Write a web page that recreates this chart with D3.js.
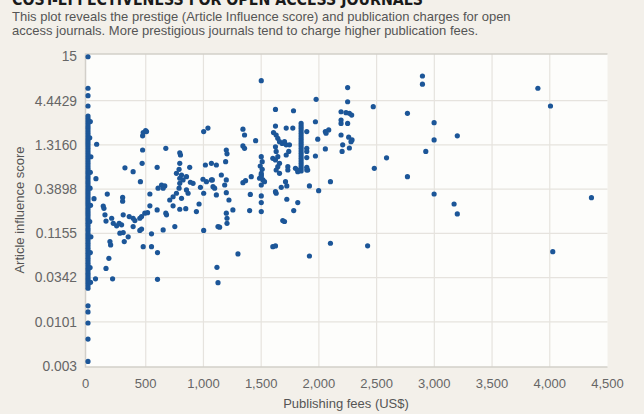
<!DOCTYPE html>
<html>
<head>
<meta charset="utf-8">
<script src="https://cdn.jsdelivr.net/npm/d3@7"></script>
<style>
  html, body { margin: 0; padding: 0; background: #f3f0ea; }
  #chart { width: 644px; height: 414px; }
  .tick-label { font-family: "Liberation Sans", Arial, sans-serif; font-size: 13px; fill: #666; }
  .tick-label.y { font-size: 13.8px; }
  .axis-label { font-family: "Liberation Sans", Arial, sans-serif; font-size: 13px; fill: #555; }
  .subtitle { font-family: "Liberation Sans", Arial, sans-serif; font-size: 13px; fill: #555; }
  .title { font-family: "DejaVu Sans Condensed", "DejaVu Sans", sans-serif; font-weight: bold; font-size: 16px; fill: #1a1a1a; }
</style>
</head>
<body>
<div id="chart"></div>
<script>
// ---- Data ----
const xTicks = [0, 500, 1000, 1500, 2000, 2500, 3000, 3500, 4000, 4500];
const yTicks = [0.003, 0.0101, 0.0342, 0.1155, 0.3898, 1.3160, 4.4429, 15];
const yTickLabels = ['0.003', '0.0101', '0.0342', '0.1155', '0.3898', '1.3160', '4.4429', '15'];

// journals with no publication fee (dense column at 0)
const freeJournalScores = [
  14.9, 6.26, 5.10, 3.84,
  2.91, 2.72, 2.54, 2.37, 2.21, 2.07, 1.93, 1.80, 1.68, 1.57, 1.47, 1.37, 1.28, 1.19, 1.11, 1.04,
  0.970, 0.905, 0.845, 0.789, 0.737, 0.688, 0.642, 0.600, 0.560, 0.523, 0.488, 0.456, 0.425, 0.397,
  0.371, 0.346, 0.323, 0.302, 0.282, 0.263, 0.246, 0.229, 0.214, 0.200, 0.187, 0.174, 0.163, 0.152,
  0.142, 0.132, 0.124, 0.115, 0.108, 0.101, 0.094, 0.0878, 0.082, 0.0765, 0.0715, 0.0667, 0.0623,
  0.0582, 0.0543, 0.0507, 0.0473, 0.0442, 0.0413, 0.0385, 0.036, 0.0336, 0.0314, 0.0293, 0.0273, 0.0255,
  0.0157, 0.0133, 0.0098, 0.0063, 0.0034
];

// [fee US$, article influence score]
const lowFeeJournals = [
  [20, 2.5], [15, 1.6], [25, 0.95], [20, 0.62], [18, 0.40], [22, 0.25], [15, 0.16], [25, 0.105],
  [20, 0.068], [18, 0.045], [22, 0.03],
  [75, 1.34], [69, 0.52], [52, 0.30], [65, 0.033], [167, 0.34], [300, 0.31], [300, 0.28], [132, 0.245],
  [138, 0.23], [147, 0.192], [156, 0.162], [205, 0.175], [219, 0.152], [248, 0.142], [270, 0.152],
  [291, 0.146], [305, 0.192], [357, 0.183], [391, 0.175], [406, 0.164], [449, 0.175], [464, 0.183],
  [492, 0.201], [516, 0.204], [391, 0.139], [276, 0.116], [305, 0.118], [348, 0.105], [314, 0.092],
  [449, 0.125], [464, 0.13], [550, 0.114], [536, 0.246], [599, 0.22], [674, 0.201], [680, 0.192],
  [651, 0.127], [752, 0.139], [190, 0.092], [196, 0.084], [478, 0.08], [550, 0.08], [602, 0.068],
  [181, 0.058], [156, 0.044], [213, 0.033], [602, 0.0326]
];

const midFeeJournals = [
  [1002, 0.125], [939, 0.21], [962, 0.259], [454, 0.479], [536, 0.341], [607, 0.40], [637, 0.437],
  [665, 0.426], [651, 0.40], [708, 0.289], [737, 0.316], [766, 0.348], [789, 0.40], [795, 0.458],
  [810, 0.303], [737, 0.246], [795, 0.224], [847, 0.228], [853, 0.381], [867, 0.348], [910, 0.458],
  [1002, 0.348], [974, 0.41], [1026, 0.479], [1083, 0.417], [1126, 0.139], [1117, 0.0453], [1126, 0.0297],
  [473, 1.69], [478, 1.85], [499, 1.95], [507, 1.90], [473, 1.145], [469, 0.793], [320, 0.70], [391, 0.63],
  [599, 0.711], [674, 1.20], [795, 1.06], [801, 0.998], [795, 0.793], [789, 0.673], [766, 0.603],
  [810, 0.575], [795, 0.526], [823, 0.502], [881, 0.711], [853, 0.55], [1002, 1.90], [1039, 2.09],
  [1017, 0.757], [1069, 0.793], [1112, 0.757], [996, 0.512], [1069, 0.502], [887, 0.471],
  [1155, 0.575], [1077, 0.502], [1097, 0.40], [1112, 0.332], [1184, 0.437], [1198, 0.502], [1198, 0.354],
  [1221, 0.289], [1342, 0.466], [1365, 0.492], [1414, 0.549], [1501, 0.575], [1486, 0.526], [1515, 0.502],
  [1529, 0.479], [1501, 0.437], [1406, 0.337], [1501, 0.323], [1501, 0.269], [1501, 0.21],
  [1198, 0.201], [1204, 0.175], [1204, 0.152], [1255, 0.22], [1400, 0.216], [1140, 0.137], [1299, 0.0655],
  [1342, 2.03], [1356, 1.73], [1342, 1.28], [1356, 1.20], [1452, 1.48], [1501, 0.952], [1509, 0.83],
  [1492, 0.737], [1509, 0.673], [1501, 0.60], [1501, 0.549], [1198, 1.145], [1204, 1.03], [1192, 0.83],
  [1501, 7.71]
];

const highFeeJournals = [
  [1630, 0.348], [1624, 0.364], [1674, 0.41], [1722, 0.426], [1711, 0.479], [1722, 0.295], [1817, 0.269],
  [1659, 0.603], [1731, 0.66], [1817, 0.63], [1903, 0.66], [1918, 0.426], [1998, 0.374], [2100, 0.479],
  [1782, 0.216], [1687, 0.164], [1702, 0.16], [1601, 0.08], [1624, 0.0816], [1918, 0.0619], [2100, 0.0879],
  [1976, 4.62], [1624, 3.50], [1780, 3.37], [1970, 2.49], [2192, 3.28], [2192, 2.61], [2192, 2.38],
  [2235, 3.20], [2056, 1.90], [2085, 1.99], [2062, 1.82], [1624, 2.21], [1607, 1.85], [1630, 1.73],
  [1717, 2.09], [1774, 2.09],
  [1846, 2.38], [1846, 2.21], [1846, 2.07], [1846, 1.93], [1846, 1.80], [1846, 1.68], [1846, 1.57],
  [1846, 1.47], [1846, 1.37], [1846, 1.28], [1846, 1.19], [1846, 1.11], [1846, 1.04], [1846, 0.97],
  [1846, 0.905], [1846, 0.845], [1846, 0.789], [1846, 0.737], [1846, 0.688], [1846, 0.642],
  [1895, 1.90], [1895, 1.20], [1895, 1.10], [1895, 0.93], [1895, 0.71], [1895, 0.66],
  [1644, 1.58], [1659, 1.44], [1682, 1.37], [1702, 1.44], [1717, 1.32], [1745, 1.32], [1739, 1.10],
  [1624, 1.25], [1630, 1.10], [1644, 0.952], [1624, 0.869], [1659, 0.793], [1644, 0.723], [1630, 0.66],
  [1601, 0.911], [1717, 0.998], [1731, 0.723], [1797, 0.692], [1817, 0.66], [1990, 1.54], [1970, 0.97],
  [2056, 1.18], [2192, 1.73], [2201, 1.10], [2206, 1.32], [2249, 2.38],
  [2897, 8.77], [2897, 7.00], [2249, 6.37], [3897, 6.26], [4006, 3.84], [2249, 4.32], [2471, 3.77],
  [2767, 3.14], [2264, 3.14], [2284, 2.99], [2998, 2.43], [2258, 1.63], [2287, 1.51], [2278, 1.44],
  [2998, 1.51], [3199, 1.69], [2264, 1.21], [2926, 1.10], [2586, 0.924], [2480, 0.692], [2767, 0.549],
  [2998, 0.341], [3171, 0.259], [4361, 0.308], [3199, 0.197], [2422, 0.082], [4026, 0.0697]
];

const points = freeJournalScores.map(s => [0, s])
  .concat(lowFeeJournals, midFeeJournals, highFeeJournals);

// ---- Layout ----
const W = 644, H = 414;
const plot = { left: 85.5, right: 607.5, top: 54, bottom: 367 };

const svg = d3.select('#chart').append('svg')
  .attr('width', W)
  .attr('height', H);

svg.append('rect').attr('width', W).attr('height', H).attr('fill', '#f3f0ea');

// --- Header (title is cropped at the top edge, as in the source) ---
svg.append('text')
  .attr('class', 'title')
  .attr('x', 12).attr('y', 5)
  .attr('textLength', 411).attr('lengthAdjust', 'spacingAndGlyphs')
  .text('COST-EFFECTIVENESS FOR OPEN ACCESS JOURNALS');

svg.append('text').attr('class', 'subtitle')
  .attr('x', 12).attr('y', 21)
  .text('This plot reveals the prestige (Article Influence score) and publication charges for open');
svg.append('text').attr('class', 'subtitle')
  .attr('x', 12).attr('y', 35)
  .text('access journals. More prestigious journals tend to charge higher publication fees.');

// --- Scales ---
const x = d3.scaleLinear().domain([0, 4500]).range([88, 607.5]);
const y = d3.scaleLog().domain([0.003, 15]).range([366, 56.5]);

// --- Plot area ---
svg.append('rect')
  .attr('x', plot.left).attr('y', plot.top)
  .attr('width', plot.right - plot.left).attr('height', plot.bottom - plot.top)
  .attr('fill', '#fdfdfb');

// gridlines
svg.append('g').selectAll('line')
  .data(xTicks.slice(1, -1))
  .enter().append('line')
  .attr('x1', d => x(d)).attr('x2', d => x(d))
  .attr('y1', plot.top).attr('y2', plot.bottom)
  .attr('stroke', '#e6e3de').attr('stroke-width', 1.2);

svg.append('g').selectAll('line')
  .data(yTicks.slice(1, -1))
  .enter().append('line')
  .attr('x1', plot.left).attr('x2', plot.right)
  .attr('y1', d => y(d)).attr('y2', d => y(d))
  .attr('stroke', '#e6e3de').attr('stroke-width', 1.2);

// frame: top, left, bottom
svg.append('path')
  .attr('d', `M${plot.right},${plot.top}H${plot.left}V${plot.bottom}H${plot.right}`)
  .attr('fill', 'none')
  .attr('stroke', '#d2cfc9')
  .attr('stroke-width', 1.5);

// --- Dots ---
svg.append('g').selectAll('circle')
  .data(points)
  .enter().append('circle')
  .attr('cx', d => x(d[0]))
  .attr('cy', d => y(d[1]))
  .attr('r', 2.6)
  .attr('fill', '#1c5698');

// --- Axes ---
const fmt = d3.format(',');
svg.append('g').selectAll('text')
  .data(xTicks)
  .enter().append('text')
  .attr('class', 'tick-label')
  .attr('x', d => x(d) - (d === 0 ? 2.5 : 0))
  .attr('y', 388)
  .attr('text-anchor', 'middle')
  .text(d => fmt(d));

svg.append('g').selectAll('text')
  .data(yTicks)
  .enter().append('text')
  .attr('class', 'tick-label y')
  .attr('x', 77)
  .attr('y', d => y(d))
  .attr('dy', '0.35em')
  .attr('text-anchor', 'end')
  .text((d, i) => yTickLabels[i]);

svg.append('text')
  .attr('class', 'axis-label')
  .attr('x', 346).attr('y', 408)
  .attr('text-anchor', 'middle')
  .text('Publishing fees (US$)');

svg.append('text')
  .attr('class', 'axis-label')
  .attr('transform', 'translate(24,210) rotate(-90)')
  .attr('text-anchor', 'middle')
  .text('Article influence score');
</script>
</body>
</html>
